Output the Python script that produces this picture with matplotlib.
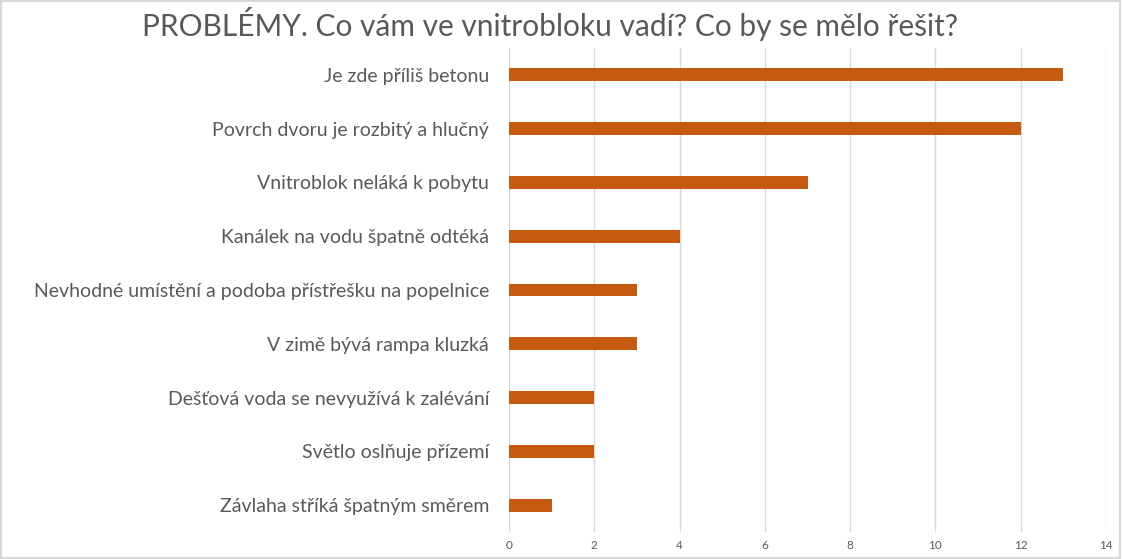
import matplotlib as mpl
mpl.use('Agg')
import matplotlib.pyplot as plt

labels = ['Je zde příliš betonu',
          'Povrch dvoru je rozbitý a hlučný',
          'Vnitroblok neláká k pobytu',
          'Kanálek na vodu špatně odtéká',
          'Nevhodné umístění a podoba přístřešku na popelnice',
          'V zimě bývá rampa kluzká',
          'Dešťová voda se nevyužívá k zalévání',
          'Světlo oslňuje přízemí',
          'Závlaha stříká špatným směrem']
values = [13, 12, 7, 4, 3, 3, 2, 2, 1]
xticks = [0, 2, 4, 6, 8, 10, 12, 14]

plt.rcParams['font.family'] = ['Lato', 'DejaVu Sans']
grey = '#595959'

fig = plt.figure(figsize=(11.22, 5.59), dpi=100)
ax = fig.add_axes([509/1122, 27/559, (1106-509)/1122, (532-48)/559])

ypos = list(range(len(labels)))[::-1]
ax.barh(ypos, values, height=0.24, color='#C55A11', zorder=3)

ax.set_xlim(0, 14)
ax.set_ylim(-0.5, len(labels) - 0.5)
ax.set_xticks(xticks)
ax.set_xticklabels([str(t) for t in xticks], fontsize=8.5, color=grey)
ax.set_yticks(ypos)
ax.set_yticklabels(labels, fontsize=14, color=grey)
ax.tick_params(axis='both', length=0)
ax.tick_params(axis='y', pad=14.4)
ax.tick_params(axis='x', pad=6)
ax.grid(axis='x', color='#d9d9d9', linewidth=1, zorder=0)
for s in ax.spines.values():
    s.set_visible(False)

fig.text(0.49, 0.957, 'PROBLÉMY. Co vám ve vnitrobloku vadí? Co by se mělo řešit?',
         ha='center', va='center', fontsize=21.5, color=grey)

# light frame around the chart
fig.patches.append(plt.Rectangle((0.001, 0.002), 0.997, 0.996, transform=fig.transFigure,
                                 fill=False, edgecolor='#d9d9d9', linewidth=1.5))

fig.savefig('out.png', dpi=100)
